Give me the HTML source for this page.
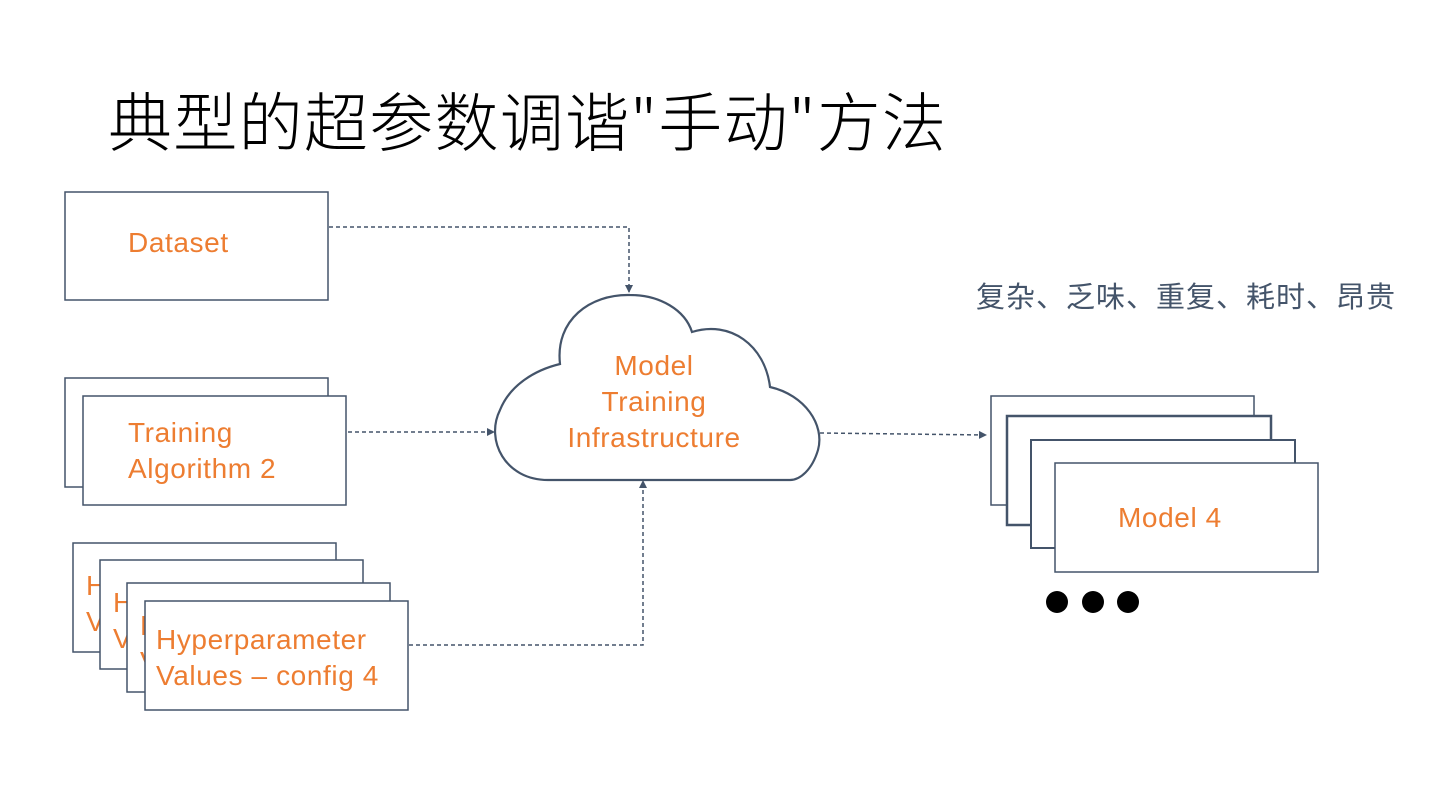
<!DOCTYPE html>
<html><head><meta charset="utf-8"><style>
html,body{margin:0;padding:0;background:#fff;}
body{width:1440px;height:810px;position:relative;overflow:hidden;font-family:"Liberation Sans","Noto Sans CJK SC",sans-serif;}
.t{position:absolute;white-space:nowrap;}
svg text{font-family:"Liberation Sans","Noto Sans CJK SC",sans-serif;letter-spacing:0.6px;}
</style></head><body>
<div class="t" style="left:108px;top:81px;font-size:64px;letter-spacing:1.3px;line-height:76px;color:#000;font-family:'Noto Sans CJK SC','Liberation Sans',sans-serif;font-weight:300;">典型的超参数调谐"手动"方法</div>
<div class="t" style="left:976px;top:276px;font-size:29px;letter-spacing:1px;line-height:38px;color:#44546a;font-family:'Noto Sans CJK SC',sans-serif;">复杂、乏味、重复、耗时、昂贵</div>
<svg width="1440" height="810" style="position:absolute;left:0;top:0">
<defs><marker id="a" markerWidth="8" markerHeight="8" refX="7" refY="4" orient="auto" markerUnits="userSpaceOnUse"><path d="M0,0 L8,4 L0,8 Z" fill="#44546a"/></marker></defs>
<g fill="#fff" stroke="#44546a" stroke-width="1.5">
<rect x="65" y="192" width="263" height="108"/>
<rect x="65" y="378" width="263" height="109"/>
<rect x="83" y="396" width="263" height="109"/>
</g>
<g font-size="28" fill="#ed7d31">
<text x="128" y="252">Dataset</text>
<text x="128" y="442">Training</text>
<text x="128" y="478">Algorithm 2</text>
</g>
<g stroke="#44546a" stroke-width="1.5" font-size="28">
<rect x="73" y="543" width="263" height="109" fill="#fff"/>
<text x="86" y="595" fill="#ed7d31" stroke="none">Hyperparameter</text><text x="86" y="631" fill="#ed7d31" stroke="none">Values – config 1</text>
<rect x="100" y="560" width="263" height="109" fill="#fff"/>
<text x="113" y="612" fill="#ed7d31" stroke="none">Hyperparameter</text><text x="113" y="648" fill="#ed7d31" stroke="none">Values – config 2</text>
<rect x="127" y="583" width="263" height="109" fill="#fff"/>
<text x="140" y="635" fill="#ed7d31" stroke="none">Hyperparameter</text><text x="140" y="671" fill="#ed7d31" stroke="none">Values – config 3</text>
<rect x="145" y="601" width="263" height="109" fill="#fff"/>
<text x="156" y="649" fill="#ed7d31" stroke="none">Hyperparameter</text><text x="156" y="685" fill="#ed7d31" stroke="none">Values – config 4</text>
</g>
<g fill="#fff" stroke="#44546a" stroke-width="1.5">
<rect x="991" y="396" width="263" height="109"/>
<rect x="1007" y="416" width="264" height="109" stroke-width="2.5"/>
<rect x="1031" y="440" width="264" height="108" stroke-width="2"/>
<rect x="1055" y="463" width="263" height="109"/>
</g>
<text x="1118" y="527" font-size="28" fill="#ed7d31">Model 4</text>
<g fill="#000"><circle cx="1057" cy="602" r="11"/><circle cx="1093" cy="602" r="11"/><circle cx="1128" cy="602" r="11"/></g>
<path d="M548,480 C505,480 485,440 500,410 C510,385 535,370 560,364 C555,320 590,294 630,295 C660,295 685,310 692,332 C730,320 765,345 770,387 C805,395 825,425 818,450 C812,470 800,480 790,480 Z" fill="#fff" stroke="#44546a" stroke-width="2.2"/>
<g font-size="28" fill="#ed7d31" text-anchor="middle">
<text x="654" y="375">Model</text>
<text x="654" y="411">Training</text>
<text x="654" y="447">Infrastructure</text>
</g>
<g fill="none" stroke="#44546a" stroke-width="1.5" stroke-dasharray="4,3">
<path d="M329,227 L629,227 L629,292" marker-end="url(#a)"/>
<path d="M348,432 L494,432" marker-end="url(#a)"/>
<path d="M409,645 L643,645 L643,481" marker-end="url(#a)"/>
<path d="M820,433 L986,435" marker-end="url(#a)"/>
</g>
</svg>
</body></html>
